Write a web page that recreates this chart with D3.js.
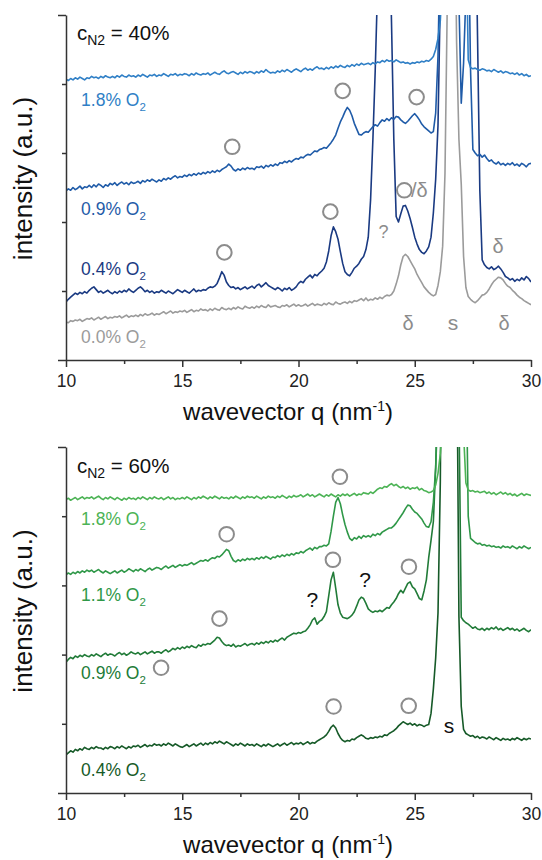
<!DOCTYPE html>
<html><head><meta charset="utf-8">
<script src="https://cdn.jsdelivr.net/npm/d3@7"></script>
<style>
body{margin:0;background:#fff;}
svg{display:block;font-family:"Liberation Sans",Arial,Helvetica,sans-serif;}
</style></head><body>
<svg id="chart" width="542" height="860"></svg>
<script>
// ---- sampling of the wavevector axis (nm^-1) ----
const qStart = 10, qStep = 0.1;
const xTicks = [10, 15, 20, 25, 30];
const xMinorTicks = [12.5, 17.5, 22.5, 27.5];
const yMajorTicks = [0, 500];
const yMinorTicks = [100, 200, 300, 400];

// ---- top panel, c_N2 = 40 % (intensity, offset, a.u.) ----
const top18 = [
407,405,408,406,409,407,410,408,406,409,
408,411,409,410,408,411,409,412,410,409,
411,409,412,410,413,411,410,413,411,412,
410,413,411,414,412,410,413,412,414,411,
413,412,415,413,411,414,413,415,412,414,
413,415,414,412,415,413,416,414,413,415,
414,416,413,415,417,415,414,417,419,416,
415,417,418,416,414,417,415,418,416,418,
417,415,418,416,419,417,421,418,416,417,
416,419,417,420,418,421,419,417,420,422,
420,418,421,423,420,422,420,423,425,422,
423,421,424,422,425,423,426,424,427,425,
424,427,425,428,426,429,427,430,428,429,
430,428,431,429,432,431,434,432,435,433,
434,432,435,433,431,432,430,431,429,431,
430,432,431,433,432,434,433,436,440,450,
466,492,560,800,1000,1200,1300,1200,1100,1000,
900,800,640,435,424,422,423,421,420,422,
421,419,420,418,421,419,417,419,416,418,
417,415,416,414,416,413,415,412,414,411,
412];
const top09 = [
245,248,246,250,247,249,252,248,251,250,
253,250,254,251,255,253,250,254,252,256,
254,257,253,256,258,255,257,254,258,256,
257,259,256,260,258,261,259,262,260,258,
261,259,263,261,264,262,265,267,264,266,
265,268,266,269,267,270,268,271,269,272,
270,273,271,274,272,275,273,276,278,280,
284,281,276,274,277,275,278,276,279,277,
278,276,280,279,281,278,282,280,283,281,
284,282,286,285,288,286,289,287,290,292,
291,294,293,296,298,297,300,303,302,305,
306,308,307,311,315,320,326,336,345,352,
360,366,362,354,343,335,327,326,329,331,
330,334,338,341,339,344,348,346,350,347,
351,349,353,352,348,345,343,346,350,354,
357,353,348,342,338,335,332,329,331,358,
440,620,1000,1400,1600,1700,1600,1500,1000,520,
372,430,530,650,420,305,300,296,298,294,
297,292,288,290,286,284,287,283,285,282,
285,283,286,282,284,281,285,283,280,284,
285];
const top04 = [
84,88,91,94,97,95,98,96,99,97,
101,104,106,102,98,100,97,99,101,98,
96,99,97,100,98,101,99,103,100,98,
101,104,106,103,99,101,98,100,97,99,
98,101,99,97,100,98,96,99,102,100,
98,101,99,97,100,103,99,101,100,102,
101,104,106,105,107,111,119,128,123,113,
108,105,106,103,105,102,104,106,103,105,
107,104,108,110,106,109,112,108,106,104,
102,105,103,100,104,102,105,101,103,106,
111,114,112,117,120,123,119,124,122,126,
129,133,142,158,180,193,186,175,157,140,
128,124,122,127,133,136,140,146,150,160,
178,232,320,420,540,800,1000,1000,900,650,
490,320,208,200,212,223,224,216,205,192,
178,168,160,156,154,158,164,178,213,262,
340,530,900,1200,1500,1600,1600,1500,1400,1300,
1250,1200,1150,1100,1000,900,700,470,245,145,
138,134,132,135,131,133,136,132,127,121,
119,116,118,114,117,115,119,116,121,118,
113];
const top00 = [
55,54,57,56,58,57,59,56,58,60,
59,61,58,60,62,59,61,63,60,62,
61,63,62,64,61,63,65,62,64,63,
65,63,66,64,67,65,66,68,65,67,
66,68,70,67,69,71,68,70,69,71,
70,72,69,71,73,70,72,71,74,72,
73,71,74,72,75,73,72,76,74,73,
75,73,76,74,77,75,74,78,76,75,
77,75,78,76,79,77,76,80,77,78,
79,77,76,79,78,80,77,79,81,78,
80,78,79,81,78,80,82,79,81,80,
79,82,80,83,81,80,84,82,81,83,
84,82,85,83,86,85,87,89,86,90,
86,88,87,90,88,91,89,92,94,93,
95,100,110,122,138,150,153,150,144,138,
132,124,118,112,106,102,98,95,93,95,
108,128,165,270,520,900,1000,760,460,320,
255,150,105,92,88,85,83,86,90,94,
95,98,103,109,114,117,120,119,116,111,
107,105,101,98,94,91,89,86,84,82,
80];

// ---- bottom panel, c_N2 = 60 % ----
const bot18 = [
424,426,423,425,427,424,426,428,425,427,
426,428,425,427,429,426,424,427,425,428,
426,424,427,425,423,426,424,427,425,426,
424,427,425,428,426,424,427,425,428,426,
425,427,424,426,428,425,427,424,426,425,
427,425,428,426,424,427,425,428,426,429,
427,425,428,426,429,427,425,428,426,427,
425,428,426,429,427,425,428,426,429,427,
428,426,429,427,425,428,426,429,427,428,
426,429,427,430,428,426,429,427,430,428,
429,431,428,430,432,429,431,428,430,432,
430,428,431,429,432,430,428,431,429,432,
430,432,429,431,433,430,432,431,434,433,
432,435,433,436,439,441,440,443,442,445,
447,444,446,443,441,443,440,442,439,441,
440,442,438,440,437,436,434,435,437,445,
462,490,540,700,900,1000,1100,1000,900,800,
700,520,448,438,436,437,435,436,434,435,
436,433,435,432,434,431,433,435,432,434,
431,433,430,432,429,431,433,430,432,431,
430];
const bot11 = [
315,318,316,319,317,320,318,321,319,322,
320,322,319,321,323,320,318,321,319,317,
319,321,318,320,322,319,321,324,322,320,
323,321,324,322,320,323,325,322,324,326,
325,323,326,328,325,327,329,326,328,330,
328,330,329,331,333,330,332,334,336,335,
337,335,338,340,339,342,341,344,348,352,
350,342,336,334,337,335,338,336,339,337,
339,337,340,338,341,339,342,340,338,341,
340,343,341,344,342,345,343,346,344,347,
346,349,347,350,352,354,351,355,353,356,
356,358,357,360,378,400,420,427,418,402,
388,377,368,365,369,367,371,368,372,370,
372,370,374,372,375,373,377,379,381,383,
383,386,390,395,400,405,411,416,415,410,
406,404,400,396,390,385,384,392,420,470,
560,800,1100,1300,1400,1400,1300,1200,1100,1000,
900,800,650,400,368,365,362,360,361,358,
359,357,358,356,357,355,356,354,357,355,
356,354,357,355,353,356,354,357,355,353,
355];
const bot09 = [
189,193,196,194,198,196,199,197,200,198,
197,200,198,201,199,197,200,202,199,201,
200,198,201,203,200,202,199,201,204,202,
201,203,200,202,204,201,203,205,202,204,
204,202,205,207,204,206,209,207,210,208,
211,209,212,210,213,211,210,214,212,215,
214,216,215,218,221,225,224,219,215,213,
214,212,215,211,213,212,214,216,213,215,
216,214,217,215,218,216,219,217,220,218,
221,219,222,224,221,225,227,229,231,230,
232,231,233,234,238,243,250,253,244,248,
250,255,262,285,308,319,296,272,260,254,
253,252,254,257,262,270,279,283,281,274,
266,263,261,263,262,264,262,265,268,267,
272,276,281,288,293,289,296,303,305,298,
295,288,281,279,292,308,340,365,392,470,
600,900,1200,1400,1500,1500,1400,1200,1000,560,
254,249,246,244,241,238,240,237,236,238,
235,238,236,239,237,240,236,238,235,237,
239,236,238,235,237,234,236,238,235,233,
236];
const bot04 = [
55,58,61,59,63,61,64,62,66,64,
63,66,64,67,65,65,63,66,64,67,
66,64,67,65,68,66,64,67,65,68,
67,69,66,68,70,67,69,68,71,69,
70,68,71,69,72,70,68,71,69,67,
66,68,70,67,69,71,68,70,72,69,
72,70,73,71,74,72,75,73,71,74,
72,70,68,71,69,72,70,68,71,69,
70,68,71,69,67,70,68,71,69,67,
69,71,68,70,72,69,71,73,70,72,
71,73,70,72,74,71,73,72,75,77,
79,81,84,89,95,98,94,86,80,76,
74,76,75,78,77,80,82,84,82,79,
78,80,79,81,80,82,81,84,83,86,
88,90,93,97,100,103,101,99,101,98,
100,97,99,98,96,98,99,115,150,195,
260,450,900,1400,1700,1800,1600,1200,700,255,
125,92,86,84,82,83,80,82,79,81,
80,78,81,79,77,80,78,76,79,77,
78,76,79,77,80,78,76,79,77,79,
78];

// ---- series names, colours ----
const topNames = ["1.8% O", "0.9% O", "0.4% O", "0.0% O"];
const topColors = ["#2f7fc6", "#1f5ba8", "#1a3a82", "#9b9b9b"];
const topLabelPos = [[10.65, 368], [10.65, 210], [10.65, 123], [10.65, 25]];
const botNames = ["1.8% O", "1.1% O", "0.9% O", "0.4% O"];
const botColors = ["#4cb355", "#2f9848", "#217b38", "#165a28"];
const botLabelPos = [[10.65, 387], [10.65, 277], [10.65, 165], [10.65, 25]];

// ---- annotations (q, intensity) ----
const topCircles = [[17.15, 309], [21.9, 390], [25.08, 381], [16.81, 156], [21.37, 215], [24.55, 246]];
const topMarks = [
  {q: 24.84, v: 236, t: "/\u03b4", anchor: "start", color: "#8c8c8c", size: 20},
  {q: 23.66, v: 177, t: "?", anchor: "middle", color: "#8c8c8c", size: 18},
  {q: 28.58, v: 155, t: "\u03b4", anchor: "middle", color: "#8c8c8c", size: 20},
  {q: 24.71, v: 43, t: "\u03b4", anchor: "middle", color: "#8c8c8c", size: 20},
  {q: 26.65, v: 43, t: "s", anchor: "middle", color: "#8c8c8c", size: 21},
  {q: 28.84, v: 43, t: "\u03b4", anchor: "middle", color: "#8c8c8c", size: 20}
];
const botCircles = [[21.78, 457], [16.91, 374], [21.48, 337], [24.75, 327], [16.6, 252], [14.09, 181], [21.51, 125], [24.74, 126]];
const botMarks = [
  {q: 20.6, v: 269, t: "?", anchor: "middle", color: "#111", size: 21},
  {q: 22.86, v: 298, t: "?", anchor: "middle", color: "#111", size: 21},
  {q: 26.47, v: 87, t: "s", anchor: "middle", color: "#111", size: 21}
];

const panels = [
  {top: 15, bottom: 360, conc: "40%", concPos: [10.47, 464], series: [top18, top09, top04, top00],
   names: topNames, colors: topColors, labelPos: topLabelPos, circles: topCircles, marks: topMarks},
  {top: 447, bottom: 793, conc: "60%", concPos: [10.47, 462], series: [bot18, bot11, bot09, bot04],
   names: botNames, colors: botColors, labelPos: botLabelPos, circles: botCircles, marks: botMarks}
];

const svg = d3.select("#chart");
const x = d3.scaleLinear().domain([10, 30]).range([66, 531]);
const axisColor = "#333";

panels.forEach((p, pi) => {
  const y = d3.scaleLinear().domain([0, 500]).range([p.bottom, p.top]);
  const g = svg.append("g");
  const clipId = "clip" + pi;
  svg.append("clipPath").attr("id", clipId).append("rect")
    .attr("x", x(10)).attr("y", p.top).attr("width", x(30) - x(10)).attr("height", p.bottom - p.top);

  // series
  const line = d3.line().x((d, i) => x(qStart + i * qStep)).y(d => y(d));
  const lines = g.append("g").attr("clip-path", `url(#${clipId})`);
  p.series.slice().reverse().forEach((s, k) => {
    const idx = p.series.length - 1 - k;
    lines.append("path").datum(s).attr("d", line).attr("fill", "none")
      .attr("stroke", p.colors[idx]).attr("stroke-width", 1.6).attr("stroke-linejoin", "round");
  });

  // axes
  const xAxis = g.append("g").attr("transform", `translate(0,${p.bottom})`)
    .call(d3.axisBottom(x).tickValues(xTicks).tickSize(7).tickSizeOuter(0).tickPadding(8).tickFormat(d3.format("d")));
  const xMinor = g.append("g").attr("transform", `translate(0,${p.bottom})`)
    .call(d3.axisBottom(x).tickValues(xMinorTicks).tickSize(4).tickSizeOuter(0).tickFormat(""));
  const yAxis = g.append("g").attr("transform", `translate(${x(10)},0)`)
    .call(d3.axisLeft(y).tickValues(yMajorTicks).tickSize(8).tickSizeOuter(0).tickFormat(""));
  const yMinor = g.append("g").attr("transform", `translate(${x(10)},0)`)
    .call(d3.axisLeft(y).tickValues(yMinorTicks).tickSize(4).tickSizeOuter(0).tickFormat(""));
  [xAxis, xMinor, yAxis, yMinor].forEach(a => {
    a.selectAll("path,line").attr("stroke", axisColor).attr("stroke-width", 1.5);
  });
  xMinor.select(".domain").remove();
  yMinor.select(".domain").remove();
  xAxis.selectAll("text").attr("font-size", 17.5).attr("fill", "#222")
    .attr("font-family", "'Liberation Sans',Arial,sans-serif");

  // axis titles
  const xt = g.append("text").attr("x", 288).attr("y", p.bottom + 60).attr("text-anchor", "middle")
    .attr("font-size", 24).attr("fill", "#111");
  xt.append("tspan").text("wavevector q (nm");
  xt.append("tspan").attr("dy", -9).attr("font-size", 14).text("-1");
  xt.append("tspan").attr("dy", 9).text(")");
  g.append("text").attr("transform", `translate(31.5,${(p.top + p.bottom) / 2 - 9}) rotate(-90)`)
    .attr("text-anchor", "middle").attr("font-size", 26).attr("fill", "#111").text("intensity (a.u.)");

  // concentration label
  const ct = g.append("text").attr("x", x(p.concPos[0])).attr("y", y(p.concPos[1]))
    .attr("font-size", 20.5).attr("fill", "#111");
  ct.append("tspan").text("c");
  ct.append("tspan").attr("dy", 5).attr("font-size", 14).text("N2");
  ct.append("tspan").attr("dy", -5).text(" = " + p.conc);

  // series labels
  p.names.forEach((n, i) => {
    const t = g.append("text").attr("x", x(p.labelPos[i][0])).attr("y", y(p.labelPos[i][1]))
      .attr("font-size", 17.5).attr("fill", p.colors[i]);
    t.append("tspan").text(n);
    t.append("tspan").attr("dy", 5).attr("font-size", 11.5).text("2");
  });

  // circle markers
  g.selectAll("circle.mk").data(p.circles).join("circle").attr("class", "mk")
    .attr("cx", d => x(d[0])).attr("cy", d => y(d[1])).attr("r", 7.3)
    .attr("fill", "none").attr("stroke", "#8c8c8c").attr("stroke-width", 2);

  // text marks
  g.selectAll("text.mk").data(p.marks).join("text").attr("class", "mk")
    .attr("x", d => x(d.q)).attr("y", d => y(d.v)).attr("text-anchor", d => d.anchor)
    .attr("font-size", d => d.size).attr("fill", d => d.color).text(d => d.t);
});
</script>
</body></html>
